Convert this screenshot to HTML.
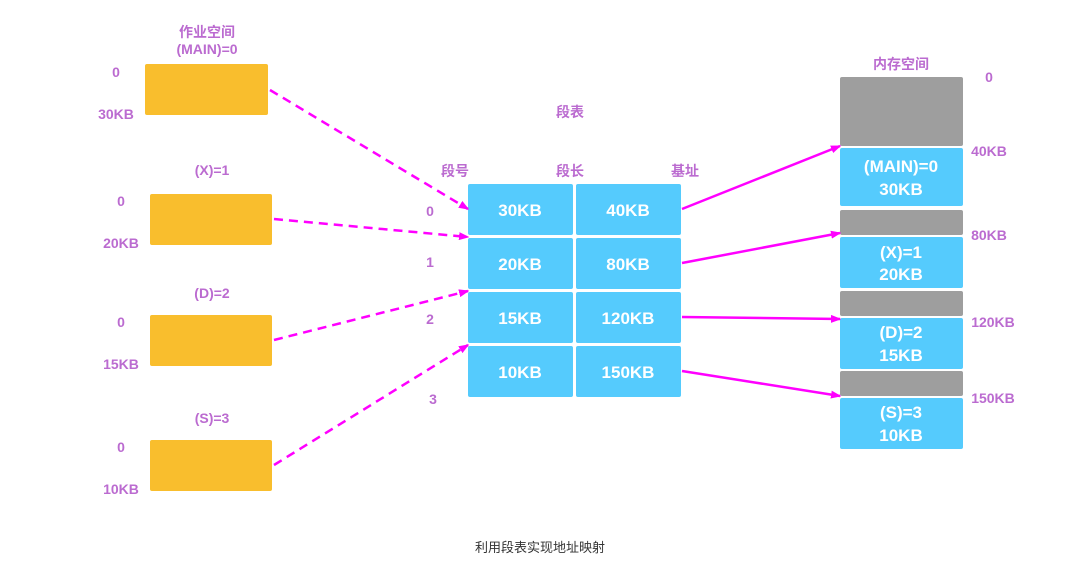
<!DOCTYPE html>
<html><head><meta charset="utf-8"><style>
body{margin:0;background:#fff;}
svg text{font-family:"Liberation Sans","Noto Sans CJK SC",sans-serif;font-weight:bold;}
</style></head><body>
<svg width="1080" height="579" viewBox="0 0 1080 579" xmlns="http://www.w3.org/2000/svg">
<defs>
<marker id="a" markerWidth="10" markerHeight="8" refX="9" refY="4" orient="auto" markerUnits="userSpaceOnUse"><path d="M0,0L14,4L0,8z" fill="#f0f" transform="scale(0.75,1)"/></marker>
</defs>
<g fill="#f9be2d">
<rect x="145" y="64" width="123" height="51" rx="2"/>
<rect x="150" y="194" width="122" height="51" rx="2"/>
<rect x="150" y="315" width="122" height="51" rx="2"/>
<rect x="150" y="440" width="122" height="51" rx="2"/>
</g>
<g fill="#bb6bd0" font-size="14" text-anchor="middle">
<text x="207" y="37">作业空间</text>
<text x="207" y="54">(MAIN)=0</text>
<text x="212" y="175">(X)=1</text>
<text x="212" y="298">(D)=2</text>
<text x="212" y="423">(S)=3</text>
<text x="116" y="77">0</text><text x="116" y="119">30KB</text>
<text x="121" y="206">0</text><text x="121" y="248">20KB</text>
<text x="121" y="327">0</text><text x="121" y="369">15KB</text>
<text x="121" y="452">0</text><text x="121" y="494">10KB</text>
<text x="570" y="117">段表</text>
<text x="455" y="176">段号</text><text x="570" y="176">段长</text><text x="685" y="176">基址</text>
<text x="430" y="216">0</text><text x="430" y="267">1</text><text x="430" y="324">2</text><text x="433" y="404">3</text>
<text x="901" y="69">内存空间</text>
<text x="989" y="82">0</text>
<text x="989" y="156">40KB</text><text x="989" y="240">80KB</text><text x="993" y="327">120KB</text><text x="993" y="403">150KB</text>
</g>
<g fill="#55cbfd">
<rect x="468" y="184" width="105" height="51" rx="2"/><rect x="576" y="184" width="105" height="51" rx="2"/>
<rect x="468" y="238" width="105" height="51" rx="2"/><rect x="576" y="238" width="105" height="51" rx="2"/>
<rect x="468" y="292" width="105" height="51" rx="2"/><rect x="576" y="292" width="105" height="51" rx="2"/>
<rect x="468" y="346" width="105" height="51" rx="2"/><rect x="576" y="346" width="105" height="51" rx="2"/>
<rect x="840" y="148" width="123" height="58" rx="2"/>
<rect x="840" y="237" width="123" height="51" rx="2"/>
<rect x="840" y="318" width="123" height="51" rx="2"/>
<rect x="840" y="398" width="123" height="51" rx="2"/>
</g>
<g fill="#9e9e9e">
<rect x="840" y="77" width="123" height="69" rx="2"/>
<rect x="840" y="210" width="123" height="25" rx="2"/>
<rect x="840" y="291" width="123" height="25" rx="2"/>
<rect x="840" y="371" width="123" height="25" rx="2"/>
</g>
<g fill="#fff" font-size="17" text-anchor="middle">
<text x="520" y="216">30KB</text><text x="628" y="216">40KB</text>
<text x="520" y="270">20KB</text><text x="628" y="270">80KB</text>
<text x="520" y="324">15KB</text><text x="628" y="324">120KB</text>
<text x="520" y="378">10KB</text><text x="628" y="378">150KB</text>
<text x="901" y="172">(MAIN)=0</text><text x="901" y="195">30KB</text>
<text x="901" y="258">(X)=1</text><text x="901" y="280">20KB</text>
<text x="901" y="338">(D)=2</text><text x="901" y="361">15KB</text>
<text x="901" y="418">(S)=3</text><text x="901" y="441">10KB</text>
</g>
<g stroke="#f0f" stroke-width="2.5" fill="none" marker-end="url(#a)">
<path d="M270,90L468,209" stroke-dasharray="9,6"/>
<path d="M274,219L468,237" stroke-dasharray="9,6"/>
<path d="M274,340L468,291" stroke-dasharray="9,6"/>
<path d="M274,465L468,345" stroke-dasharray="9,6"/>
<path d="M682,209L840,146"/>
<path d="M682,263L840,233"/>
<path d="M682,317L840,319"/>
<path d="M682,371L840,396"/>
</g>
<text x="540" y="552" text-anchor="middle" font-size="13" fill="#333" style="font-weight:normal">利用段表实现地址映射</text>
</svg>
</body></html>
